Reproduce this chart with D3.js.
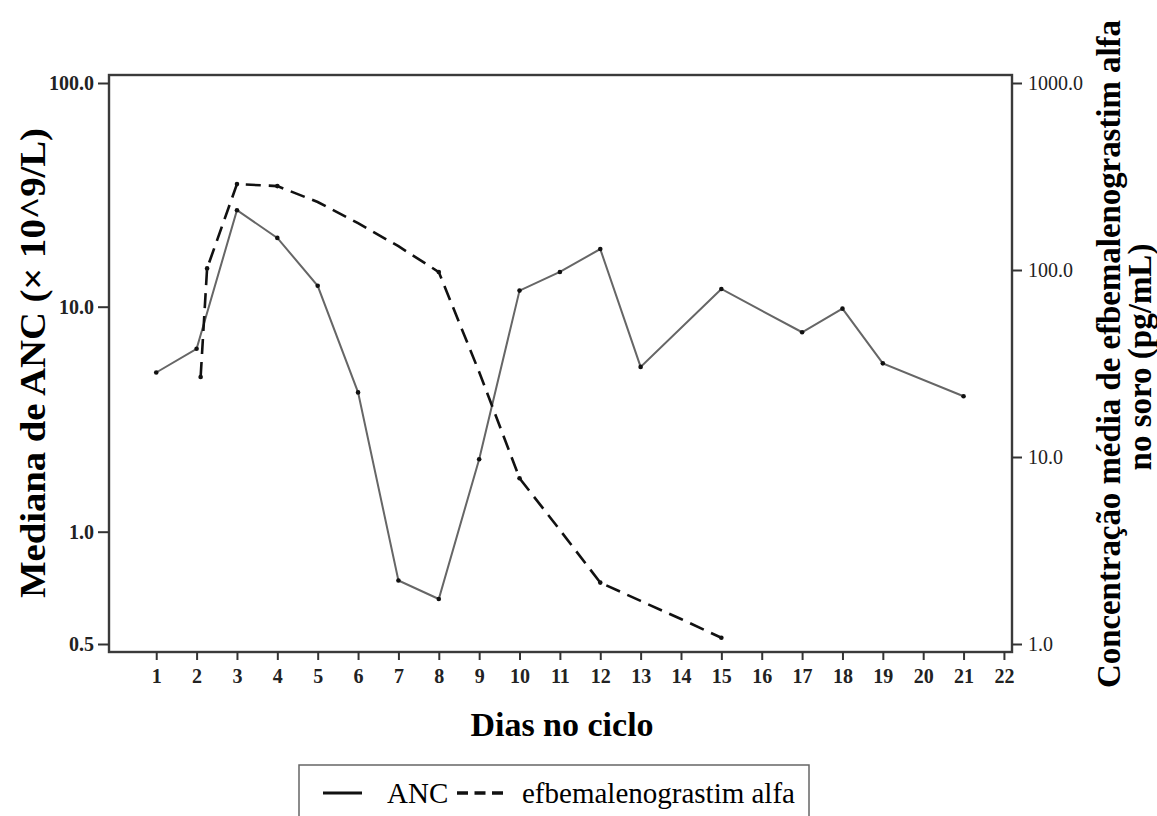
<!DOCTYPE html>
<html>
<head>
<meta charset="utf-8">
<script src="https://cdn.jsdelivr.net/npm/d3@7"></script>
<style>
  body { margin: 0; background: #fff; }
</style>
</head>
<body>
<div id="chart"></div>
<script>
const width = 1157;
const height = 816;
const serif = "'Liberation Serif', 'Times New Roman', serif";

// day ticks
const dayTicks = d3.range(1, 23);

// ANC median (x 10^9/L), left axis
const ancDays = [1, 2, 3, 4, 5, 6, 7, 8, 9, 10, 11, 12, 13, 15, 17, 18, 19, 21];
const ancValues = [5.1, 6.5, 27.0, 20.3, 12.4, 4.16, 0.74, 0.66, 2.1, 11.8, 14.3, 18.1, 5.4, 12.0, 7.7, 9.8, 5.6, 4.0];

// efbemalenograstim alfa mean serum concentration (pg/mL), right axis
const efbDays = [2.1, 2.26, 3, 4, 5, 6, 7, 8, 9, 10, 11, 12, 13, 14, 15];
const efbValues = [26.8, 102, 288, 281, 231, 178, 134, 97.5, 28.5, 7.7, 4.07, 2.13, 1.7, 1.36, 1.08];
const efbMarked = [2.1, 2.26, 3, 4, 8, 10, 12, 15];

const leftTicks = [0.5, 1, 10, 100];
const rightTicks = [1, 10, 100, 1000];

const frame = { left: 109, right: 1012, top: 75, bottom: 652 };

const svg = d3.select("#chart")
  .append("svg")
  .attr("width", width)
  .attr("height", height)
  .style("font-family", serif);

const x = d3.scaleLinear()
  .domain([-0.17, 22.2])
  .range([frame.left, frame.right]);

// left axis is broken below 1.0 in the original figure
const yLeft = d3.scaleLog()
  .domain([0.5, 1, 10, 100])
  .range([644, 531.7, 306.7, 83]);

const yRight = d3.scaleLog()
  .domain([1, 1000])
  .range([644, 83]);

// frame
svg.append("rect")
  .attr("x", frame.left)
  .attr("y", frame.top)
  .attr("width", frame.right - frame.left)
  .attr("height", frame.bottom - frame.top)
  .attr("fill", "none")
  .attr("stroke", "#3a3a3a")
  .attr("stroke-width", 2.4);

function styleAxis(g, weight) {
  g.attr("font-family", serif);
  g.select(".domain").remove();
  g.selectAll("line").attr("stroke", "#333").attr("stroke-width", 2);
  g.selectAll("text")
    .style("font-size", "20px")
    .style("font-weight", weight)
    .attr("fill", "#222");
}

// bottom axis
svg.append("g")
  .attr("transform", `translate(0,${frame.bottom})`)
  .call(d3.axisBottom(x).tickValues(dayTicks).tickSize(8).tickPadding(9).tickFormat(d3.format("d")))
  .call(g => styleAxis(g, "bold"));

// left axis
svg.append("g")
  .attr("transform", `translate(${frame.left},0)`)
  .call(d3.axisLeft(yLeft).tickValues(leftTicks).tickSize(11).tickPadding(4).tickFormat(d3.format(".1f")))
  .call(g => styleAxis(g, "bold"));

// right axis
svg.append("g")
  .attr("transform", `translate(${frame.right},0)`)
  .call(d3.axisRight(yRight).tickValues(rightTicks).tickSize(10).tickPadding(6).tickFormat(d3.format(".1f")))
  .call(g => styleAxis(g, "normal"));

// ANC line
const ancData = ancDays.map((d, i) => ({ day: d, v: ancValues[i] }));
svg.append("path")
  .datum(ancData)
  .attr("fill", "none")
  .attr("stroke", "#666")
  .attr("stroke-width", 2)
  .attr("d", d3.line().x(d => x(d.day)).y(d => yLeft(d.v)));

svg.selectAll("circle.anc")
  .data(ancData)
  .enter()
  .append("circle")
  .attr("class", "anc")
  .attr("cx", d => x(d.day))
  .attr("cy", d => yLeft(d.v))
  .attr("r", 2.3)
  .attr("fill", "#111");

// efbemalenograstim line
const efbData = efbDays.map((d, i) => ({ day: d, v: efbValues[i] }));
svg.append("path")
  .datum(efbData)
  .attr("fill", "none")
  .attr("stroke", "#111")
  .attr("stroke-width", 2.6)
  .attr("stroke-dasharray", "15,8")
  .attr("d", d3.line().x(d => x(d.day)).y(d => yRight(d.v)));

svg.selectAll("circle.efb")
  .data(efbData.filter(d => efbMarked.includes(d.day)))
  .enter()
  .append("circle")
  .attr("class", "efb")
  .attr("cx", d => x(d.day))
  .attr("cy", d => yRight(d.v))
  .attr("r", 2.3)
  .attr("fill", "#111");

// axis titles
svg.append("text")
  .attr("transform", "translate(45,363) rotate(-90)")
  .attr("text-anchor", "middle")
  .attr("textLength", 470)
  .attr("lengthAdjust", "spacingAndGlyphs")
  .style("font-size", "35px")
  .style("font-weight", "bold")
  .text("Mediana de ANC (× 10^9/L)");

svg.append("text")
  .attr("transform", "translate(1120,354) rotate(-90)")
  .attr("text-anchor", "middle")
  .attr("textLength", 668)
  .attr("lengthAdjust", "spacingAndGlyphs")
  .style("font-size", "33px")
  .style("font-weight", "bold")
  .text("Concentração média de efbemalenograstim alfa");

svg.append("text")
  .attr("transform", "translate(1151,357) rotate(-90)")
  .attr("text-anchor", "middle")
  .style("font-size", "33px")
  .style("font-weight", "bold")
  .text("no soro (pg/mL)");

svg.append("text")
  .attr("x", 562)
  .attr("y", 736)
  .attr("text-anchor", "middle")
  .style("font-size", "34px")
  .style("font-weight", "bold")
  .text("Dias no ciclo");

// legend
const legend = svg.append("g");
legend.append("rect")
  .attr("x", 299)
  .attr("y", 765)
  .attr("width", 510)
  .attr("height", 60)
  .attr("fill", "#fff")
  .attr("stroke", "#666")
  .attr("stroke-width", 1.5);

legend.append("line")
  .attr("x1", 323).attr("x2", 362)
  .attr("y1", 793).attr("y2", 793)
  .attr("stroke", "#111").attr("stroke-width", 3);
legend.append("text")
  .attr("x", 387).attr("y", 803)
  .style("font-size", "29px")
  .text("ANC");

legend.append("line")
  .attr("x1", 457).attr("x2", 509)
  .attr("y1", 793).attr("y2", 793)
  .attr("stroke", "#111").attr("stroke-width", 3.5)
  .attr("stroke-dasharray", "11,6.5");
legend.append("text")
  .attr("x", 522).attr("y", 803)
  .style("font-size", "29px")
  .text("efbemalenograstim alfa");
</script>
</body>
</html>
